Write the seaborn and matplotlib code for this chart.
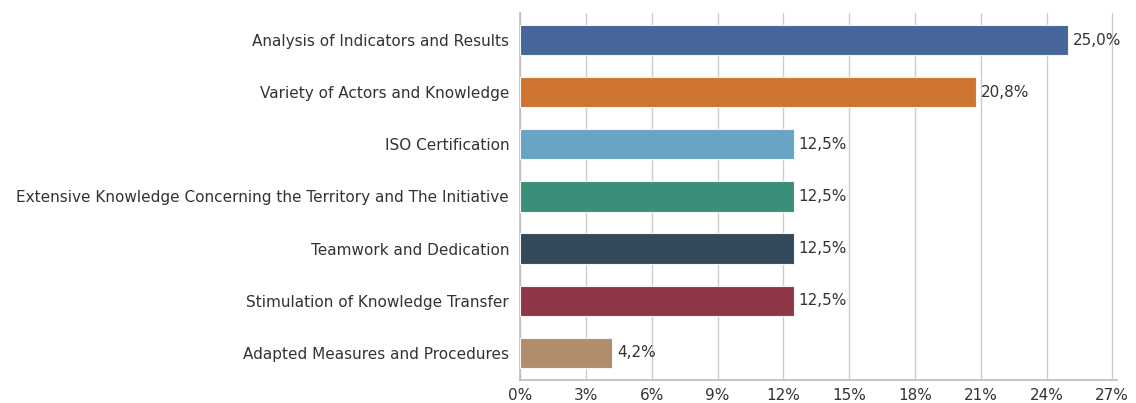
import pandas as pd
import matplotlib
matplotlib.use("Agg")
import matplotlib.pyplot as plt
import seaborn as sns
from matplotlib.ticker import FuncFormatter

categories = [
    "Analysis of Indicators and Results",
    "Variety of Actors and Knowledge",
    "ISO Certification",
    "Extensive Knowledge Concerning the Territory and The Initiative",
    "Teamwork and Dedication",
    "Stimulation of Knowledge Transfer",
    "Adapted Measures and Procedures",
]
shares = [25.0, 20.8, 12.5, 12.5, 12.5, 12.5, 4.2]
bar_colors = ["#46659A", "#CD7431", "#68A4C4", "#3A8F7B", "#34495A", "#8F3646", "#B28D6B"]
x_ticks = [0, 3, 6, 9, 12, 15, 18, 21, 24, 27]

df = pd.DataFrame({"category": categories, "share": shares})

sns.set_style("white")
plt.rcParams["font.family"] = ["DejaVu Sans"]

fig = plt.figure(figsize=(11.36, 4.03), dpi=100)
ax = fig.add_axes([0.458, 0.057, 0.525, 0.911])

sns.barplot(data=df, x="share", y="category", hue="category", palette=bar_colors,
            saturation=1, legend=False, width=0.58, edgecolor="#F4F4F4",
            linewidth=0.8, ax=ax, zorder=3)

for i, v in enumerate(shares):
    ax.text(v + 0.2, i, f"{v:.1f}%".replace(".", ","), va="center", ha="left",
            fontsize=11, color="#333333")

ax.set_xlim(0, 27.2)
ax.set_ylim(6.52, -0.52)
ax.set_xticks(x_ticks)
ax.xaxis.set_major_formatter(FuncFormatter(lambda v, p: f"{int(v)}%"))
ax.grid(axis="x", color="#CCCCCC", linewidth=1, zorder=0)
ax.set_xlabel("")
ax.set_ylabel("")
for s in ["top", "right"]:
    ax.spines[s].set_visible(False)
for s in ["left", "bottom"]:
    ax.spines[s].set_color("#BBBBBB")
    ax.spines[s].set_linewidth(1.2)
ax.tick_params(axis="x", length=5, color="#BBBBBB", labelsize=11, labelcolor="#333333", pad=1)
ax.tick_params(axis="y", length=0, labelsize=11, labelcolor="#333333", pad=8)

fig.savefig("out.png", dpi=100)
